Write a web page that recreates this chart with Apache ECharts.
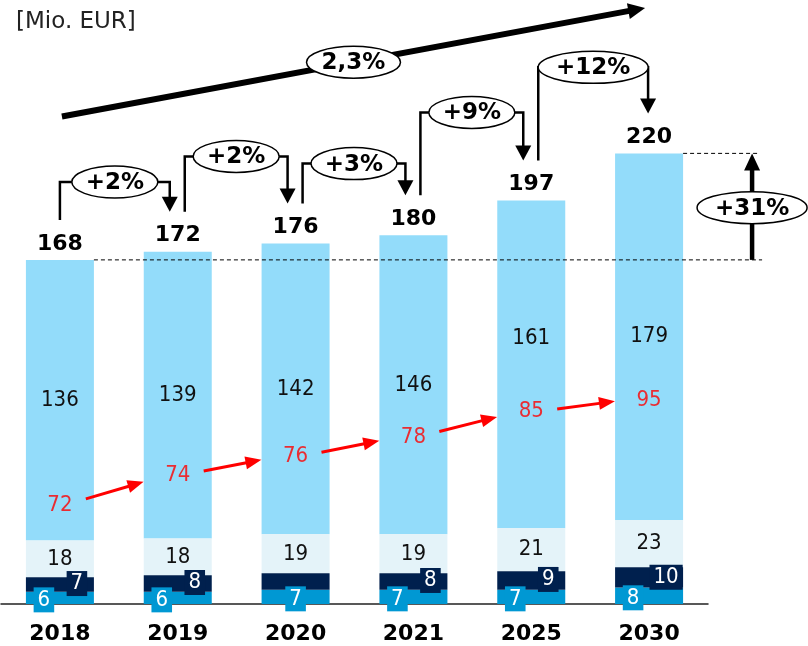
<!DOCTYPE html>
<html><head><meta charset="utf-8">
<script src="https://cdn.jsdelivr.net/npm/echarts@6/dist/echarts.min.js"></script>
<style>html,body{margin:0;padding:0;background:#fff}#c{width:808px;height:646px}</style>
</head><body><div id="c"></div>
<script>
// ---- data ----
const categories = ['2018', '2019', '2020', '2021', '2025', '2030'];
const totals = [168, 172, 176, 180, 197, 220];
const segBlue = [6, 6, 7, 7, 7, 8];
const segNavy = [7, 8, 8, 8, 9, 10];
const segLight = [18, 18, 19, 19, 21, 23];
const segTop = [136, 139, 142, 146, 161, 179];
const redValues = [72, 74, 76, 78, 85, 95];
const yoyLabels = ['+2%', '+2%', '+3%', '+9%', '+12%'];
const cagrLabel = '2,3%';
const totalGrowthLabel = '+31%';
const unitLabel = '[Mio. EUR]';

// ---- layout (annotation placement, in value units) ----
const redLabelPos = [48, 63, 72, 81.5, 94, 99.6];
const connLevel = [206, 218.5, 215, 240, 262];

const FONT_N = '"DejaVu Sans Condensed", "DejaVu Sans", sans-serif';
const FONT_B = '"DejaVu Sans", Verdana, sans-serif';
const C_BLUE = '#0098D3', C_NAVY = '#00204E', C_LIGHT = '#E4F3F9', C_TOP = '#93DCFA';

const topPlot = totals.map((t, i) => t - segBlue[i] - segNavy[i] - segLight[i]);

const chart = echarts.init(document.getElementById('c'), null, {renderer: 'canvas'});
const lblBase = {fontFamily: FONT_N, fontSize: 22};

chart.setOption({
  animation: false,
  title: {text: unitLabel, left: 11, top: 6, textStyle: {fontFamily: FONT_B, fontSize: 23, fontWeight: 'normal', color: '#222'}},
  grid: {left: 1, right: 100, top: 10, bottom: 42},
  xAxis: {
    type: 'category', data: categories,
    axisLine: {lineStyle: {color: '#222', width: 1.5}},
    axisTick: {show: false},
    axisLabel: {fontFamily: FONT_B, fontSize: 22, fontWeight: 'bold', color: '#000', margin: 19}
  },
  yAxis: {type: 'value', min: 0, max: 290, show: false, splitLine: {show: false}},
  series: [
    {
      type: 'bar', stack: 's', barWidth: 68, z: 4,
      itemStyle: {color: C_BLUE},
      data: segBlue.map((v, i) => ({value: v, label: {offset: i === 2 ? [0, 2] : [-16, 2]}})),
      label: Object.assign({show: true, position: 'inside', color: '#fff', backgroundColor: C_BLUE, padding: [2, 4, 1, 4], lineHeight: 22}, lblBase)
    },
    {
      type: 'bar', stack: 's', barWidth: 68, z: 4,
      itemStyle: {color: C_NAVY},
      data: segNavy.map((v, i) => ({value: v, label: {show: i !== 2, offset: i === 5 ? [17, 0] : [17, -1]}})),
      label: Object.assign({show: true, position: 'inside', color: '#fff', backgroundColor: C_NAVY, padding: [2, 4, 1, 4], lineHeight: 22}, lblBase)
    },
    {
      type: 'bar', stack: 's', barWidth: 68, z: 3,
      itemStyle: {color: C_LIGHT},
      data: segLight,
      label: Object.assign({show: true, position: 'inside', color: '#111'}, lblBase)
    },
    {
      type: 'bar', stack: 's', barWidth: 68, z: 2,
      itemStyle: {color: C_TOP},
      data: topPlot.map((v, i) => ({value: v, label: {offset: i === 4 ? [0, -26] : [0, 0]}})),
      label: Object.assign({show: true, position: 'inside', color: '#111', formatter: p => String(segTop[p.dataIndex])}, lblBase)
    },
    {
      type: 'bar', stack: 's', barWidth: 68, z: 2, silent: true,
      itemStyle: {color: 'transparent'},
      data: totals.map(() => 0),
      label: {show: true, position: 'top', distance: 5, fontFamily: FONT_B, fontSize: 22, fontWeight: 'bold', color: '#000', formatter: p => String(totals[p.dataIndex])}
    },
    {
      type: 'scatter', z: 6, symbolSize: 0,
      data: redLabelPos.map((v, i) => [i, v]),
      label: Object.assign({show: true, position: 'inside', color: '#FF0000', formatter: p => String(redValues[p.dataIndex])}, lblBase)
    }
  ]
});

function px(i, v) { return chart.convertToPixel({gridIndex: 0}, [i, v]); }
const g = [];
function arrowHead(tip, from, len, w, color) {
  const dx = tip[0] - from[0], dy = tip[1] - from[1];
  const L = Math.hypot(dx, dy); const ux = dx / L, uy = dy / L;
  const bx = tip[0] - ux * len, by = tip[1] - uy * len;
  return {type: 'polygon', z: 20, shape: {points: [tip, [bx - uy * w / 2, by + ux * w / 2], [bx + uy * w / 2, by - ux * w / 2]]}, style: {fill: color}};
}
function ellipseLabel(cx, cy, text, rx) {
  g.push({type: 'ellipse', z: 21, shape: {cx: cx, cy: cy, rx: rx, ry: 16}, style: {fill: '#fff', stroke: '#000', lineWidth: 1.5}});
  g.push({type: 'text', z: 22, style: {x: cx, y: cy + 1, text: text, font: 'bold 23px ' + FONT_B, fill: '#000', align: 'center', verticalAlign: 'middle', textAlign: 'center', textVerticalAlign: 'middle'}});
}
const cxs = categories.map((c, i) => px(i, 0)[0]);
const tops = totals.map((t, i) => px(i, t)[1]);
const halfBar = 34;

// dashed reference lines
const y0 = tops[0], y5 = tops[5];
g.push({type: 'line', z: 15, shape: {x1: cxs[0] + halfBar, y1: y0, x2: cxs[5] + 113, y2: y0}, style: {stroke: '#000', lineWidth: 1, lineDash: [4, 3]}});
g.push({type: 'line', z: 15, shape: {x1: cxs[5] + halfBar, y1: y5, x2: cxs[5] + 111, y2: y5}, style: {stroke: '#000', lineWidth: 1, lineDash: [4, 3]}});
// +31% arrow
const ax = cxs[5] + 103;
g.push({type: 'line', z: 20, shape: {x1: ax, y1: y0, x2: ax, y2: y5 + 14}, style: {stroke: '#000', lineWidth: 4.5}});
g.push(arrowHead([ax, y5], [ax, y0], 17, 16, '#000'));
ellipseLabel(ax, (y0 + y5) / 2 + 1, totalGrowthLabel, 55);

// year-on-year connectors
for (let i = 0; i < yoyLabels.length; i++) {
  const xl = cxs[i] + (i === 0 ? 0 : 7);
  const xr = cxs[i + 1] - (i + 1 === 5 ? 1 : 8);
  const yl = tops[i] - 40, yr = tops[i + 1] - 40;
  const yh = px(0, connLevel[i])[1];
  g.push({type: 'polyline', z: 20, shape: {points: [[xl, yl], [xl, yh], [xr, yh], [xr, yr - 12]]}, style: {stroke: '#000', lineWidth: 2.5, fill: null}});
  g.push(arrowHead([xr, yr], [xr, yh], 15, 16, '#000'));
  ellipseLabel((xl + xr) / 2, yh, yoyLabels[i], yoyLabels[i].length > 3 ? 55 : 43);
}

// CAGR arrow
const cs = [cxs[0] + 2, px(0, 238)[1]];
const ce = [cxs[5] - 4, px(0, 291)[1]];
const cdx = ce[0] - cs[0], cdy = ce[1] - cs[1], cL = Math.hypot(cdx, cdy);
g.push({type: 'line', z: 20, shape: {x1: cs[0], y1: cs[1], x2: ce[0] - cdx / cL * 12, y2: ce[1] - cdy / cL * 12}, style: {stroke: '#000', lineWidth: 6}});
g.push(arrowHead(ce, cs, 17, 16, '#000'));
ellipseLabel(cs[0] + cdx * 0.5, cs[1] + cdy * 0.5, cagrLabel, 47);

// red arrows between red labels
const rp = redLabelPos.map((v, i) => px(i, v));
for (let i = 0; i < rp.length - 1; i++) {
  const a = rp[i], b = rp[i + 1];
  const s = [a[0] + (b[0] - a[0]) * 0.22, a[1] + (b[1] - a[1]) * 0.22];
  const e = [a[0] + (b[0] - a[0]) * 0.71, a[1] + (b[1] - a[1]) * 0.71 - 2];
  const dx = e[0] - s[0], dy = e[1] - s[1], L = Math.hypot(dx, dy);
  g.push({type: 'line', z: 20, shape: {x1: s[0], y1: s[1], x2: e[0] - dx / L * 10, y2: e[1] - dy / L * 10}, style: {stroke: '#FF0000', lineWidth: 3}});
  g.push(arrowHead(e, s, 16, 13, '#FF0000'));
}

chart.setOption({graphic: {elements: g}});
</script></body></html>
